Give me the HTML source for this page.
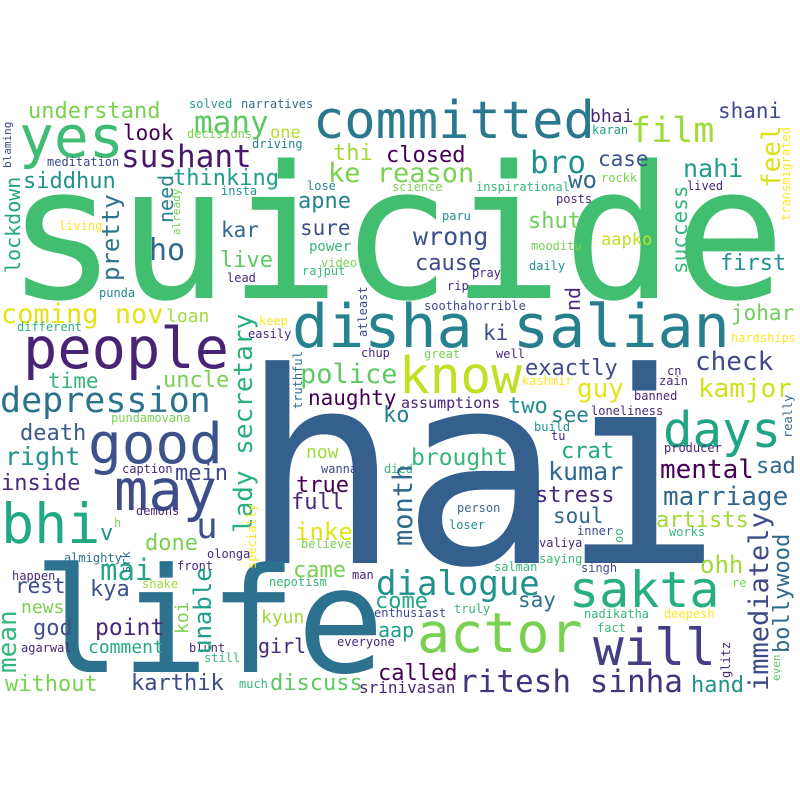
<!DOCTYPE html>
<html><head><meta charset="utf-8"><style>
html,body{margin:0;padding:0;background:#fff;}
svg{display:block;}
text{font-family:"DejaVu Sans Mono","Liberation Mono",monospace;}
</style></head><body>
<svg width="800" height="800" viewBox="0 0 800 800">
<rect width="800" height="800" fill="#fff"/>
<!-- big words -->
<text x="6" y="298" font-size="185" fill="#42be71">suicide</text>
<text x="240" y="563" font-size="267" fill="#35608d">hai</text>
<text x="33" y="672" font-size="146" fill="#2c718e">life</text>
<text x="23" y="368" font-size="57" fill="#482475">people</text>
<text x="292" y="347" font-size="60" fill="#26828e">disha</text>
<text x="513" y="347" font-size="60" fill="#277f8e">salian</text>
<text x="313" y="138" font-size="52" fill="#2a788e">committed</text>
<text x="19" y="157" font-size="58" fill="#3fbc73">yes</text>
<text x="88" y="463" font-size="56" fill="#3b528b">good</text>
<text x="114" y="510" font-size="57" fill="#3e4c8a">may</text>
<text x="1" y="543" font-size="55" fill="#22a884">bhi</text>
<text x="399" y="393" font-size="51" fill="#c2df23">know</text>
<text x="663" y="447" font-size="49" fill="#20a486">days</text>
<text x="569" y="607" font-size="50" fill="#29af7f">sakta</text>
<text x="417" y="652" font-size="55" fill="#7ad151">actor</text>
<text x="593" y="665" font-size="51" fill="#433e85">will</text>
<text x="0" y="412" font-size="35" fill="#2c728e">depression</text>
<text x="376" y="595" font-size="34" fill="#21918c">dialogue</text>
<text x="459" y="692" font-size="31" fill="#46337e">ritesh sinha</text>
<text x="630" y="142" font-size="35" fill="#a0da39">film</text>
<text x="194" y="133" font-size="31" fill="#5ec962">many</text>
<text x="121" y="167" font-size="31" fill="#481a6c">sushant</text>
<text x="530" y="173" font-size="31" fill="#21918c">bro</text>
<text x="149" y="260" font-size="30" fill="#31688e">ho</text>
<text x="1" y="323" font-size="27" fill="#e2e418">coming nov</text>
<text x="328" y="182" font-size="27" fill="#7ad151">ke reason</text>
<!-- medium -->
<text x="28" y="118" font-size="22" fill="#7ad151">understand</text>
<text x="123" y="140" font-size="21" fill="#440154">look</text>
<text x="270" y="138" font-size="17" fill="#b5de2b">one</text>
<text x="333" y="160" font-size="22" fill="#a0da39">thi</text>
<text x="23" y="188" font-size="22" fill="#21918c">siddhun</text>
<text x="173" y="185" font-size="22" fill="#1f9e89">thinking</text>
<text x="298" y="208" font-size="22" fill="#26828e">apne</text>
<text x="221" y="237" font-size="21" fill="#31688e">kar</text>
<text x="300" y="235" font-size="21" fill="#3b528b">sure</text>
<text x="220" y="267" font-size="22" fill="#5ec962">live</text>
<text x="309" y="251" font-size="14" fill="#35b779">power</text>
<text x="166" y="322" font-size="18" fill="#a0da39">loan</text>
<text x="386" y="162" font-size="22" fill="#440154">closed</text>
<text x="590" y="122" font-size="18" fill="#482878">bhai</text>
<text x="718" y="118" font-size="21" fill="#3e4a89">shani</text>
<text x="598" y="166" font-size="21" fill="#3b528b">case</text>
<text x="683" y="177" font-size="25" fill="#1f9e89">nahi</text>
<text x="568" y="188" font-size="24" fill="#31688e">wo</text>
<text x="528" y="228" font-size="22" fill="#6ece58">shut</text>
<text x="413" y="245" font-size="25" fill="#3b528b">wrong</text>
<text x="601" y="245" font-size="17" fill="#c2df23">aapko</text>
<text x="415" y="270" font-size="22" fill="#3e4a89">cause</text>
<text x="720" y="270" font-size="22" fill="#21918c">first</text>
<text x="731" y="320" font-size="21" fill="#6ece58">johar</text>
<text x="483" y="340" font-size="21" fill="#3e4a89">ki</text>
<text x="695" y="370" font-size="26" fill="#3e4a89">check</text>
<text x="48" y="388" font-size="21" fill="#35b779">time</text>
<text x="163" y="387" font-size="22" fill="#7ad151">uncle</text>
<text x="300" y="383" font-size="27" fill="#5ec962">police</text>
<text x="308" y="405" font-size="21" fill="#440154">naughty</text>
<text x="20" y="440" font-size="22" fill="#3a5a8c">death</text>
<text x="5" y="465" font-size="25" fill="#21918c">right</text>
<text x="175" y="480" font-size="22" fill="#3e4a89">mein</text>
<text x="306" y="458" font-size="18" fill="#a0da39">now</text>
<text x="1" y="490" font-size="22" fill="#482878">inside</text>
<text x="296" y="492" font-size="22" fill="#440154">true</text>
<text x="291" y="509" font-size="22" fill="#482878">full</text>
<text x="196" y="538" font-size="36" fill="#3b528b">u</text>
<text x="100" y="540" font-size="22" fill="#21918c">v</text>
<text x="295" y="540" font-size="24" fill="#e2e418">inke</text>
<text x="145" y="550" font-size="22" fill="#7ad151">done</text>
<text x="100" y="580" font-size="29" fill="#22a884">mai</text>
<text x="293" y="577" font-size="22" fill="#7ad151">came</text>
<text x="15" y="593" font-size="21" fill="#3e4a89">rest</text>
<text x="90" y="596" font-size="22" fill="#3b528b">kya</text>
<text x="21" y="613" font-size="18" fill="#7ad151">news</text>
<text x="33" y="635" font-size="22" fill="#3b528b">god</text>
<text x="95" y="635" font-size="23" fill="#482878">point</text>
<text x="261" y="623" font-size="18" fill="#a0da39">kyun</text>
<text x="88" y="653" font-size="18" fill="#22a884">comment</text>
<text x="258" y="653" font-size="20" fill="#482878">girl</text>
<text x="5" y="691" font-size="22" fill="#7ad151">without</text>
<text x="131" y="690" font-size="22" fill="#3e4a89">karthik</text>
<text x="270" y="690" font-size="22" fill="#5ec962">discuss</text>
<text x="359" y="693" font-size="16" fill="#482878">srinivasan</text>
<text x="378" y="680" font-size="22" fill="#440154">called</text>
<text x="375" y="608" font-size="22" fill="#22a884">come</text>
<text x="378" y="637" font-size="20" fill="#1f9e89">aap</text>
<text x="518" y="607" font-size="21" fill="#2c728e">say</text>
<text x="700" y="573" font-size="24" fill="#a0da39">ohh</text>
<text x="691" y="692" font-size="22" fill="#21918c">hand</text>
<text x="525" y="375" font-size="22" fill="#3e4a89">exactly</text>
<text x="577" y="397" font-size="26" fill="#e5e419">guy</text>
<text x="698" y="397" font-size="26" fill="#d0e11c">kamjor</text>
<text x="401" y="408" font-size="15" fill="#482878">assumptions</text>
<text x="508" y="413" font-size="22" fill="#21918c">two</text>
<text x="551" y="422" font-size="21" fill="#26828e">see</text>
<text x="383" y="422" font-size="22" fill="#26828e">ko</text>
<text x="411" y="465" font-size="23" fill="#35b779">brought</text>
<text x="561" y="458" font-size="22" fill="#22a884">crat</text>
<text x="548" y="480" font-size="25" fill="#31688e">kumar</text>
<text x="660" y="478" font-size="26" fill="#440154">mental</text>
<text x="756" y="473" font-size="22" fill="#31688e">sad</text>
<text x="535" y="502" font-size="22" fill="#482878">stress</text>
<text x="663" y="505" font-size="26" fill="#31688e">marriage</text>
<text x="553" y="523" font-size="21" fill="#31688e">soul</text>
<text x="656" y="527" font-size="22" fill="#a0da39">artists</text>
<!-- small -->
<g font-size="12">
<text x="189" y="108" fill="#2a9a8a">solved</text>
<text x="241" y="108" fill="#3b6a8e">narratives</text>
<text x="187" y="138" fill="#7ad151">decisions</text>
<text x="252" y="148" fill="#26828e">driving</text>
<text x="47" y="166" fill="#3e4a89">meditation</text>
<text x="221" y="195" fill="#21918c">insta</text>
<text x="307" y="190" fill="#26828e">lose</text>
<text x="59" y="230" fill="#fde725">living</text>
<text x="321" y="267" fill="#7ad151">video</text>
<text x="302" y="275" fill="#35b779">rajput</text>
<text x="227" y="282" fill="#482878">lead</text>
<text x="99" y="297" fill="#26828e">punda</text>
<text x="259" y="325" fill="#fde725">keep</text>
<text x="248" y="338" fill="#482878">easily</text>
<text x="17" y="331" fill="#2ab07f">different</text>
<text x="361" y="357" fill="#482878">chup</text>
<text x="592" y="134" fill="#1f9e89">karan</text>
<text x="601" y="182" fill="#7ad151">rockk</text>
<text x="392" y="191" fill="#7ad151">science</text>
<text x="476" y="191" fill="#35b779">inspirational</text>
<text x="687" y="190" fill="#482878">lived</text>
<text x="556" y="203" fill="#482878">posts</text>
<text x="442" y="220" fill="#21918c">paru</text>
<text x="531" y="250" fill="#7ad151">mooditu</text>
<text x="529" y="270" fill="#21918c">daily</text>
<text x="472" y="277" fill="#482878">pray</text>
<text x="447" y="290" fill="#482878">rip</text>
<text x="424" y="310" fill="#3e4a89">sootha</text>
<text x="468" y="310" fill="#3e4a89">horrible</text>
<text x="731" y="342" fill="#fde725">hardships</text>
<text x="424" y="358" fill="#7ad151">great</text>
<text x="496" y="358" fill="#482878">well</text>
<text x="111" y="422" fill="#7ad151">pundamovana</text>
<text x="122" y="473" fill="#482878">caption</text>
<text x="321" y="473" fill="#3e4a89">wanna</text>
<text x="114" y="527" fill="#7ad151">h</text>
<text x="136" y="515" fill="#482878">demons</text>
<text x="64" y="562" fill="#2c728e">almighty</text>
<text x="207" y="558" fill="#482878">olonga</text>
<text x="301" y="548" fill="#7ad151">believe</text>
<text x="12" y="580" fill="#482878">happen</text>
<text x="177" y="570" fill="#482878">front</text>
<text x="352" y="579" fill="#482878">man</text>
<text x="142" y="588" fill="#a0da39">shake</text>
<text x="269" y="586" fill="#35b779">nepotism</text>
<text x="21" y="652" fill="#482878">agarwal</text>
<text x="189" y="652" fill="#482878">blunt</text>
<text x="337" y="646" fill="#482878">everyone</text>
<text x="204" y="662" fill="#35b779">still</text>
<text x="239" y="688" fill="#35b779">much</text>
<text x="732" y="587" fill="#7ad151">re</text>
<text x="454" y="613" fill="#35b779">truly</text>
<text x="374" y="617" fill="#3e4a89">enthusiast</text>
<text x="584" y="618" fill="#35b779">nadikatha</text>
<text x="664" y="618" fill="#fde725">deepesh</text>
<text x="597" y="632" fill="#35b779">fact</text>
<text x="667" y="375" fill="#482878">cn</text>
<text x="659" y="385" fill="#482878">zain</text>
<text x="522" y="385" fill="#fde725">kashmir</text>
<text x="634" y="400" fill="#482878">banned</text>
<text x="591" y="415" fill="#482878">loneliness</text>
<text x="534" y="431" fill="#21918c">build</text>
<text x="551" y="440" fill="#482878">tu</text>
<text x="664" y="452" fill="#482878">producer</text>
<text x="384" y="473" fill="#35b779">died</text>
<text x="457" y="512" fill="#3e6a8e">person</text>
<text x="449" y="529" fill="#21918c">loser</text>
<text x="577" y="535" fill="#3e4a89">inner</text>
<text x="669" y="536" fill="#35b779">works</text>
<text x="539" y="547" fill="#482878">valiya</text>
<text x="539" y="563" fill="#35b779">saying</text>
<text x="494" y="571" fill="#35b779">salman</text>
<text x="581" y="572" fill="#3e4a89">singh</text>
</g>
<!-- vertical words -->
<text transform="translate(11,168) rotate(-90)" font-size="11" fill="#3e4a89">blaming</text>
<text transform="translate(20,273) rotate(-90)" font-size="20" fill="#22a884">lockdown</text>
<text transform="translate(173,223) rotate(-90)" font-size="20" fill="#26828e">need</text>
<text transform="translate(180,235) rotate(-90)" font-size="11" fill="#7ad151">already</text>
<text transform="translate(119,281) rotate(-90)" font-size="24" fill="#2c728e">pretty</text>
<text transform="translate(367,337) rotate(-90)" font-size="12" fill="#3e4a89">atleast</text>
<text transform="translate(780,188) rotate(-90)" font-size="26" fill="#d8e219">feel</text>
<text transform="translate(790,221) rotate(-90)" font-size="12" fill="#fde725">transmigrated</text>
<text transform="translate(687,274) rotate(-90)" font-size="21" fill="#35b779">success</text>
<text transform="translate(580,311) rotate(-90)" font-size="20" fill="#482878">nd</text>
<text transform="translate(252,533) rotate(-90)" font-size="26" fill="#2ab07f">lady secretary</text>
<text transform="translate(302,409) rotate(-90)" font-size="12" fill="#2c728e">truthful</text>
<text transform="translate(256,569) rotate(-90)" font-size="12" fill="#fde725">specially</text>
<text transform="translate(130,573) rotate(-90)" font-size="12" fill="#2c728e">srk</text>
<text transform="translate(412,546) rotate(-90)" font-size="27" fill="#31688e">month</text>
<text transform="translate(188,634) rotate(-90)" font-size="18" fill="#7ad151">koi</text>
<text transform="translate(211,654) rotate(-90)" font-size="24" fill="#1f9e89">unable</text>
<text transform="translate(16,673) rotate(-90)" font-size="26" fill="#35b779">mean</text>
<text transform="translate(768,691) rotate(-90)" font-size="27" fill="#3e4a89">immediately</text>
<text transform="translate(789,653) rotate(-90)" font-size="22" fill="#31688e">bollywood</text>
<text transform="translate(730,678) rotate(-90)" font-size="12" fill="#482878">glitz</text>
<text transform="translate(780,681) rotate(-90)" font-size="11" fill="#5ec962">even</text>
<text transform="translate(792,438) rotate(-90)" font-size="12" fill="#3e6a8e">really</text>
<text transform="translate(623,543) rotate(-90)" font-size="12" fill="#35b779">oo</text>
</svg>
</body></html>
